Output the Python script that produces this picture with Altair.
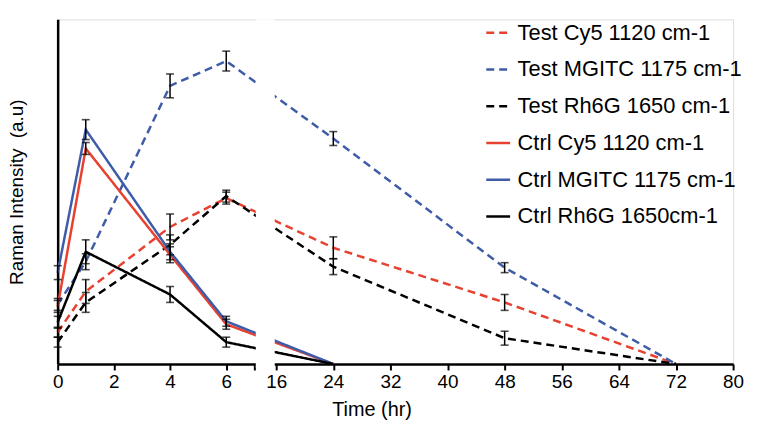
import altair as alt
import pandas as pd

# ---- data ----
series_names = [
    "Test Cy5 1120 cm-1",
    "Test MGITC 1175 cm-1",
    "Test Rh6G 1650 cm-1",
    "Ctrl Cy5 1120 cm-1",
    "Ctrl MGITC 1175 cm-1",
    "Ctrl Rh6G 1650cm-1",
]
series_colors = ["#E8412F", "#3F5CA8", "#000000", "#E8412F", "#3F5CA8", "#000000"]
series_dash = [[8, 5], [8, 5], [8, 5], [1, 0], [1, 0], [1, 0]]

test_times = [0, 1, 4, 6, 24, 48, 72]
ctrl_times = [0, 1, 4, 6, 24]

test_cy5 = [32, 73, 138, 167, 117, 62, 0]
test_cy5_err = [5, 12, 13, 6, 11, 8, 0]
test_mgitc = [60, 103, 280, 305, 227, 97, 0]
test_mgitc_err = [6, 8, 12, 10, 7, 5, 0]
test_rh6g = [22, 62, 120, 169, 98, 26, 0]
test_rh6g_err = [5, 10, 10, 6, 8, 7, 0]
ctrl_cy5 = [58, 217, 110, 40, 0]
ctrl_cy5_err = [6, 6, 8, 5, 0]
ctrl_mgitc = [92, 236, 113, 43, 0]
ctrl_mgitc_err = [7, 10, 8, 5, 0]
ctrl_rh6g = [42, 113, 70, 22, 0]
ctrl_rh6g_err = [6, 12, 8, 5, 0]

x_ticks = [0, 2, 4, 6, 7, 16, 24, 32, 40, 48, 56, 64, 72, 80]
break_start, break_end = 7.6, 15.4

# ---- build table ----
rows = []
for name, times, vals, errs in [
    (series_names[0], test_times, test_cy5, test_cy5_err),
    (series_names[1], test_times, test_mgitc, test_mgitc_err),
    (series_names[2], test_times, test_rh6g, test_rh6g_err),
    (series_names[3], ctrl_times, ctrl_cy5, ctrl_cy5_err),
    (series_names[4], ctrl_times, ctrl_mgitc, ctrl_mgitc_err),
    (series_names[5], ctrl_times, ctrl_rh6g, ctrl_rh6g_err),
]:
    for t, v, e in zip(times, vals, errs):
        rows.append({"series": name, "t": t, "v": v, "lo": v - e, "hi": v + e, "err": e})
df = pd.DataFrame(rows)
err_df = df[df["err"] > 0]
mask_df = pd.DataFrame({"a": [break_start], "b": [break_end]})

W, H = 680, 347
xscale = alt.Scale(domain=[0, 7, 16, 80], range=[0, 198, 220, W], nice=False, zero=False)
yscale = alt.Scale(domain=[0, 347], nice=False)

FONT = "Liberation Sans"

legend = alt.Legend(title=None, orient="none", legendX=430, legendY=0,
                    symbolType="stroke", symbolSize=576, symbolStrokeWidth=2.5,
                    labelFontSize=22, labelFont=FONT, labelColor="black", labelLimit=0,
                    labelOffset=6, rowPadding=12, padding=0)

lines = alt.Chart(df).mark_line(strokeWidth=2.5).encode(
    x=alt.X("t:Q", scale=xscale, axis=alt.Axis(
        values=x_ticks,
        labelExpr="datum.value == 7 ? '' : datum.label",
        labelFlush=False,
        title="Time (hr)",
        titleX=316, titleY=46, titleBaseline="middle", titleAlign="center",
        grid=False, domainColor="black", domainWidth=2.5, tickColor="black",
        tickWidth=2, tickSize=6, labelFontSize=19, labelColor="black",
        titleFontSize=20, titleFontWeight="normal", titleColor="black",
        labelFont=FONT, titleFont=FONT, labelPadding=3, zindex=0,
    )),
    y=alt.Y("v:Q", scale=yscale, axis=alt.Axis(
        title="Raman Intensity\u00a0 (a.u)", labels=False, ticks=False, grid=False,
        domainColor="black", domainWidth=2.5, titleFontSize=19,
        titleFontWeight="normal", titleColor="black", titleFont=FONT,
        titlePadding=31, zindex=0,
    )),
    color=alt.Color("series:N", scale=alt.Scale(domain=series_names, range=series_colors),
                    legend=legend),
    strokeDash=alt.StrokeDash("series:N", scale=alt.Scale(domain=series_names, range=series_dash),
                              legend=legend),
    order="t:Q",
)

bars = alt.Chart(err_df).mark_rule(color="black", strokeWidth=1.5).encode(
    x=alt.X("t:Q", scale=xscale), y=alt.Y("lo:Q", scale=yscale), y2="hi:Q"
)
caps_lo = alt.Chart(err_df).mark_tick(color="black", thickness=1.6, size=8, orient="horizontal").encode(
    x=alt.X("t:Q", scale=xscale), y=alt.Y("lo:Q", scale=yscale)
)
caps_hi = alt.Chart(err_df).mark_tick(color="black", thickness=1.6, size=8, orient="horizontal").encode(
    x=alt.X("t:Q", scale=xscale), y=alt.Y("hi:Q", scale=yscale)
)

mask = alt.Chart(mask_df).mark_rect(color="white").encode(
    x=alt.X("a:Q", scale=xscale), x2="b:Q", y=alt.value(0), y2=alt.value(H + 4)
)

chart = alt.layer(lines, bars, caps_lo, caps_hi, mask).properties(
    width=W, height=H, padding={"left": 0, "top": 10, "right": 5, "bottom": 5}
).configure_view(stroke=None).configure(background="white")

chart.save("out.html", embed_options={"renderer": "svg", "actions": False})
